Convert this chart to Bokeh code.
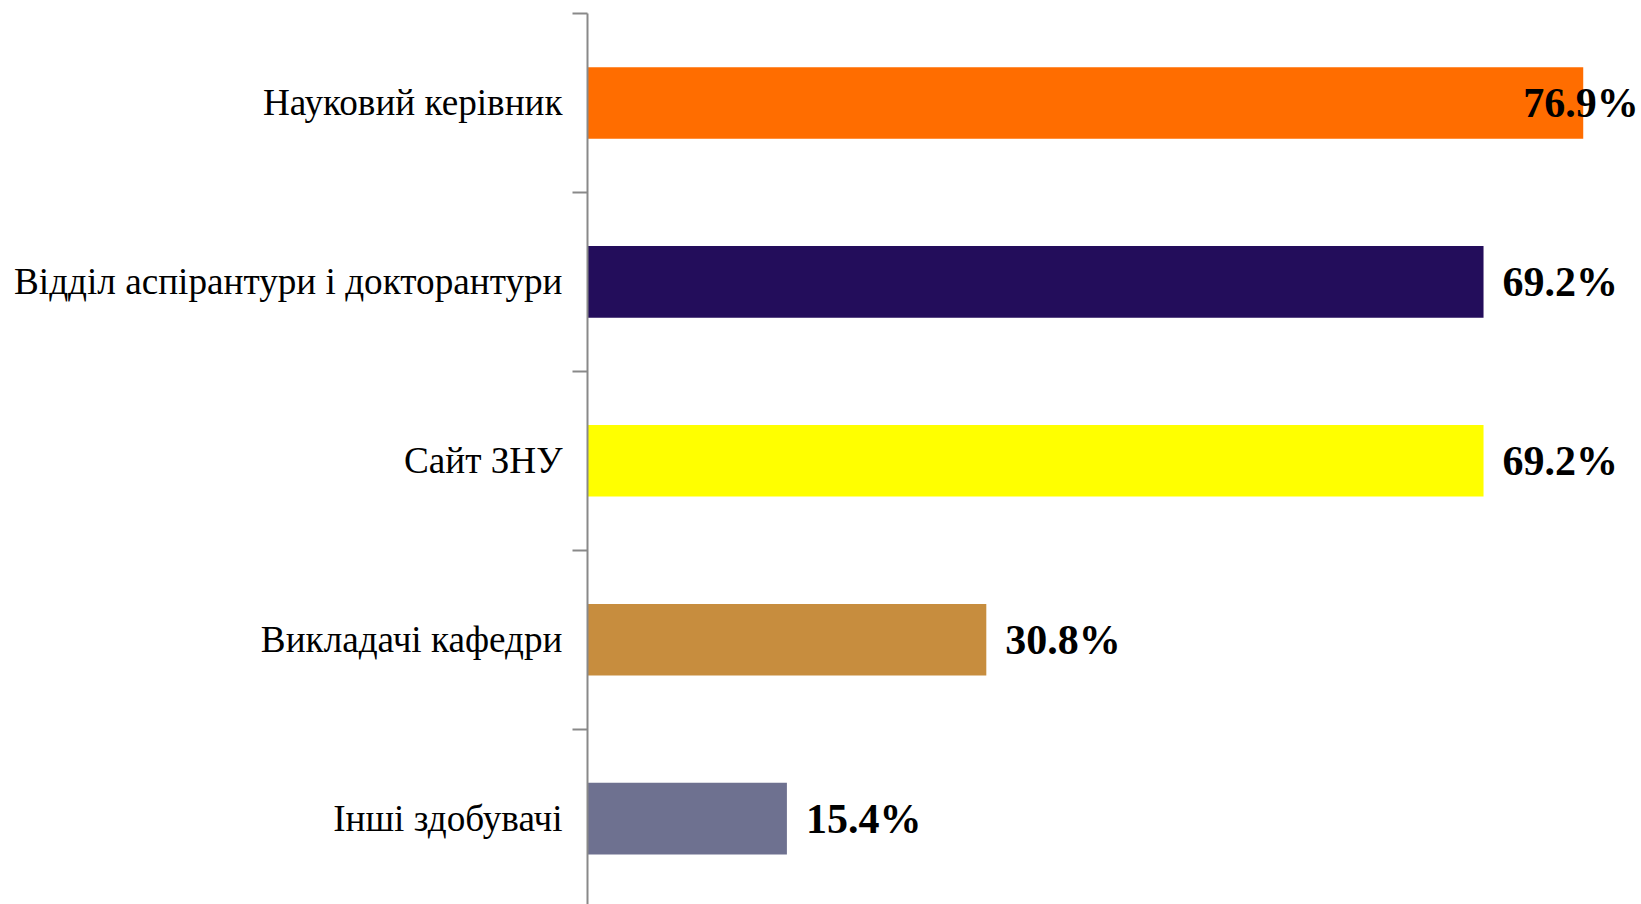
from bokeh.plotting import figure
from bokeh.models import Range1d, FixedTicker, ColumnDataSource, LabelSet
from bokeh.embed import file_html
from bokeh.resources import INLINE
from bokeh.core.properties import value

categories = ["Науковий керівник", "Відділ аспірантури і докторантури", "Сайт ЗНУ",
              "Викладачі кафедри", "Інші здобувачі"]
values = [76.9, 69.2, 69.2, 30.8, 15.4]
colors = ["#FF6D00", "#230D5B", "#FFFF00", "#C78D3E", "#6E7190"]
label_offsets = [-60, 19, 19, 19, 19]

n = len(categories)
ypos = [i + 0.5 for i in range(n)]
texts = [f"{v:.1f}%" for v in values]

src = ColumnDataSource(dict(y=ypos, v=values, c=colors, t=texts, xo=label_offsets))

p = figure(width=1641, height=904, output_backend="svg", toolbar_location=None,
           x_range=Range1d(0, 81.4), y_range=Range1d(4.98, 0),
           min_border_left=587, min_border_right=0, min_border_top=13, min_border_bottom=0)
p.outline_line_color = None
p.grid.visible = False
p.xaxis.visible = False

p.hbar(y="y", right="v", left=0, height=0.4, fill_color="c", line_color=None, source=src)

labels = LabelSet(x="v", y="y", text="t", x_offset="xo", source=src,
                  text_font=value("Liberation Serif"), text_font_style="bold",
                  text_font_size="42px", text_baseline="middle", text_align="left",
                  text_color="black")
p.add_layout(labels)

ya = p.yaxis[0]
ya.ticker = FixedTicker(ticks=ypos, minor_ticks=list(range(n + 1)))
ya.major_label_overrides = {y: c for y, c in zip(ypos, categories)}
ya.major_tick_out = 0
ya.major_tick_in = 0
ya.minor_tick_out = 15
ya.minor_tick_in = 0
ya.minor_tick_line_color = "#898989"
ya.minor_tick_line_width = 2
ya.axis_line_color = "#898989"
ya.axis_line_width = 2
ya.major_label_text_font = "Liberation Serif"
ya.major_label_text_font_size = "37.2px"
ya.major_label_text_color = "black"
ya.major_label_standoff = 10

open("out.html", "w").write(file_html(p, INLINE))
